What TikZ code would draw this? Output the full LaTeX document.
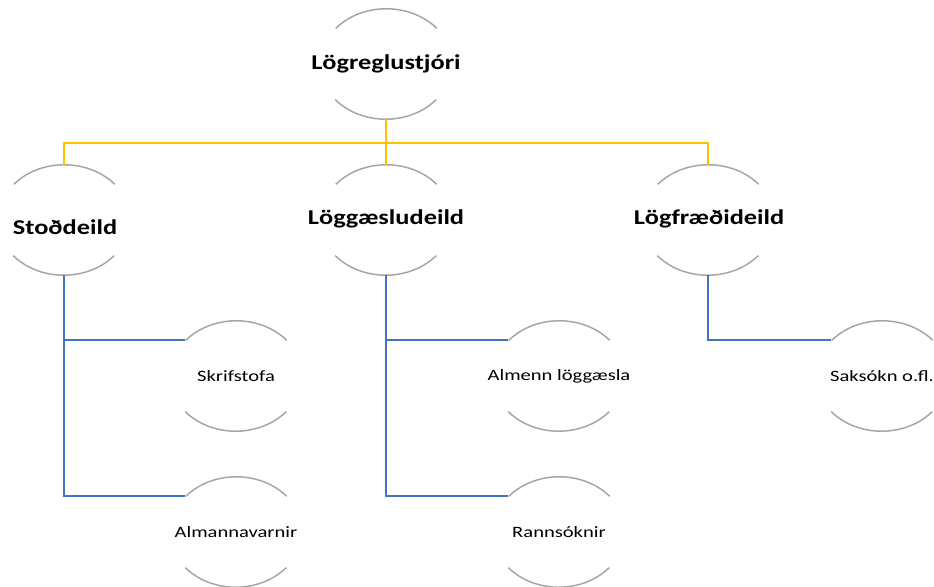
\documentclass[tikz,border=0pt]{standalone}
\usepackage{fontspec}
\usepackage{graphicx}
\setmainfont{Carlito}
\usetikzlibrary{shapes.geometric,calc}
\definecolor{yel}{HTML}{FFC000}
\definecolor{blu}{HTML}{4472C4}
\definecolor{arcgray}{HTML}{A6A6A6}
\newcommand\bigwide[1]{\scalebox{1.25}[1]{#1}}
\newcommand\smallwide[1]{\scalebox{1.3}[1]{#1}}
\begin{document}
\begin{tikzpicture}[x=0.02cm,y=0.02cm,
  ring/.style={ellipse,draw=none,minimum width=2.64cm,minimum height=2.2cm,inner sep=0pt},
  bigtxt/.style={font=\fontsize{12}{14}\selectfont\bfseries,inner sep=0pt},
  smalltxt/.style={font=\fontsize{9}{11}\selectfont,inner sep=0pt},
  arcst/.style={draw=arcgray,line width=0.85pt},
  yline/.style={draw=yel,line width=1.1pt},
  bline/.style={draw=blu,line width=1.1pt}]
\useasboundingbox (0,0) rectangle (934,587);
% shapes (y up: y' = 587 - y)
\node[ring] (top) at (386,523) {};
\node[ring] (stod) at (64,367) {};
\node[ring] (logg) at (386,367) {};
\node[ring] (logf) at (708,367) {};
\node[ring] (skrif) at (236,211) {};
\node[ring] (alman) at (236,55) {};
\node[ring] (almenn) at (559,211) {};
\node[ring] (rann) at (559,55) {};
\node[ring] (saks) at (882,211) {};
% arcs
\foreach \n in {top,stod,logg,logf,skrif,alman,almenn,rann,saks}{
  \draw[arcst] (\n.35) arc[start angle=40,end angle=140,x radius=1.32cm,y radius=1.1cm];
  \draw[arcst] (\n.215) arc[start angle=220,end angle=320,x radius=1.32cm,y radius=1.1cm];
}
% texts
\node[bigtxt] (top-t) at ($(top)+(0,0)$) {\bigwide{Lögreglustjóri}};
\node[bigtxt] (stod-t) at ($(stod)+(1,-7)$) {\bigwide{Stoðdeild}};
\node[bigtxt] (logg-t) at ($(logg)+(0,1)$) {\bigwide{Löggæsludeild}};
\node[bigtxt] (logf-t) at ($(logf)+(1,1)$) {\bigwide{Lögfræðideild}};
\node[smalltxt] (skrif-t) at (skrif) {\smallwide{Skrifstofa}};
\node[smalltxt] (alman-t) at (alman) {\smallwide{Almannavarnir}};
\node[smalltxt] (almenn-t) at (almenn) {\smallwide{Almenn löggæsla}};
\node[smalltxt] (rann-t) at (rann) {\smallwide{Rannsóknir}};
\node[smalltxt] (saks-t) at (saks) {\smallwide{Saksókn o.fl.}};
% yellow connectors
\coordinate (bus) at (386,444);
\draw[yline] (top.south) -- (bus);
\draw[yline] (stod.north) |- (bus) -| (logf.north);
\draw[yline] (logg.north) -- (bus);
% blue connectors
\draw[bline] (stod.south) |- (alman.145);
\draw[bline] (stod.south |- skrif.145) -- (skrif.145);
\draw[bline] (logg.south) |- (rann.145);
\draw[bline] (logg.south |- almenn.145) -- (almenn.145);
\draw[bline] (logf.south) |- (saks.145);
\end{tikzpicture}
\end{document}
